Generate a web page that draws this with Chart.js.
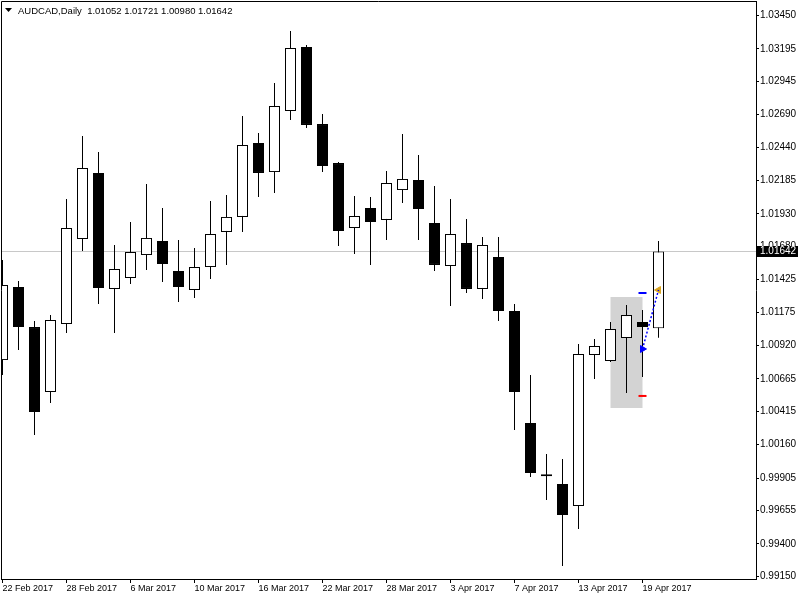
<!DOCTYPE html>
<html>
<head>
<meta charset="utf-8">
<script src="https://cdn.jsdelivr.net/npm/chart.js@4.4.0/dist/chart.umd.min.js"></script>
<style>
  html, body { margin: 0; padding: 0; background: #fff; }
  #wrap { width: 800px; height: 600px; }
</style>
</head>
<body>
<div id="wrap"><canvas id="chart" width="800" height="600"></canvas></div>
<script>
const symbol = "AUDCAD";
const period = "Daily";

const dates = ["22 Feb 2017", "23 Feb 2017", "24 Feb 2017", "27 Feb 2017", "28 Feb 2017",
    "1 Mar 2017", "2 Mar 2017", "3 Mar 2017", "6 Mar 2017", "7 Mar 2017", "8 Mar 2017", "9 Mar 2017",
    "10 Mar 2017", "13 Mar 2017", "14 Mar 2017", "15 Mar 2017", "16 Mar 2017", "17 Mar 2017",
    "20 Mar 2017", "21 Mar 2017", "22 Mar 2017", "23 Mar 2017", "24 Mar 2017", "27 Mar 2017",
    "28 Mar 2017", "29 Mar 2017", "30 Mar 2017", "31 Mar 2017", "3 Apr 2017", "4 Apr 2017",
    "5 Apr 2017", "6 Apr 2017", "7 Apr 2017", "10 Apr 2017", "11 Apr 2017", "12 Apr 2017",
    "13 Apr 2017", "14 Apr 2017", "17 Apr 2017", "18 Apr 2017", "19 Apr 2017", "20 Apr 2017"];

const opens = [1.00809, 1.01369, 1.01062, 1.00564, 1.01085, 1.01737, 1.02243, 1.01354, 1.01438, 1.01614,
    1.01722, 1.01492, 1.01346, 1.01522, 1.01791, 1.01906, 1.02473, 1.02250, 1.02718, 1.03209,
    1.02618, 1.02319, 1.01821, 1.01975, 1.01883, 1.02112, 1.02189, 1.01860, 1.01530, 1.01706,
    1.01354, 1.01599, 1.01185, 1.00327, 0.99920, 0.99859, 0.99690, 1.00848, 1.00802, 1.00978,
    1.01101, 1.01052];
const highs = [1.01576, 1.01415, 1.01108, 1.01154, 1.02044, 1.02526, 1.02404, 1.01691, 1.01867, 1.02158,
    1.01975, 1.01729, 1.01668, 1.02028, 1.02074, 1.02680, 1.02549, 1.02933, 1.03331, 1.03224,
    1.02695, 1.02327, 1.02067, 1.02059, 1.02258, 1.02542, 1.02381, 1.02143, 1.02044, 1.01890,
    1.01752, 1.01752, 1.01239, 1.00694, 1.00089, 1.00051, 1.00932, 1.00970, 1.01101, 1.01231,
    1.01193, 1.01721];
const lows = [1.00694, 1.00886, 1.00235, 1.00480, 1.01016, 1.01645, 1.01239, 1.01016, 1.01392, 1.01499,
    1.01407, 1.01254, 1.01285, 1.01430, 1.01538, 1.01791, 1.02059, 1.02090, 1.02649, 1.02588,
    1.02250, 1.01683, 1.01622, 1.01538, 1.01729, 1.02013, 1.01729, 1.01492, 1.01223, 1.01323,
    1.01277, 1.01108, 1.00273, 0.99913, 0.99736, 0.99230, 0.99514, 1.00664, 1.00794, 1.00557,
    1.00679, 1.00980];
const closes = [1.01384, 1.01062, 1.00411, 1.01116, 1.01821, 1.02281, 1.01361, 1.01507, 1.01637, 1.01745,
    1.01545, 1.01369, 1.01522, 1.01775, 1.01906, 1.02457, 1.02243, 1.02756, 1.03201, 1.02611,
    1.02296, 1.01798, 1.01913, 1.01867, 1.02166, 1.02197, 1.01967, 1.01538, 1.01775, 1.01354,
    1.01691, 1.01185, 1.00564, 0.99943, 0.99918, 0.99621, 1.00855, 1.00917, 1.01047, 1.01154,
    1.01062, 1.01642];

const xTickLabels = ["22 Feb 2017", "28 Feb 2017", "6 Mar 2017", "10 Mar 2017", "16 Mar 2017",
    "22 Mar 2017", "28 Mar 2017", "3 Apr 2017", "7 Apr 2017", "13 Apr 2017", "19 Apr 2017"];
const yTicks = [1.03450, 1.03195, 1.02945, 1.02690, 1.02440, 1.02185, 1.01930, 1.01680, 1.01425,
    1.01175, 1.00920, 1.00665, 1.00415, 1.00160, 0.99905, 0.99655, 0.99400, 0.99150];

// marked zone + trade drawn on the last bars
const zoneBar = 39;
const zoneRange = [1.00442, 1.01292];
const tradeBars = [40, 41];
const tradePrices = [1.00894, 1.01346];
const stopLoss = 1.00534;
const takeProfit = 1.01323;

const FONT = "'Liberation Sans', Arial, sans-serif";
const last = closes.length - 1;
const tickIdx = xTickLabels.map(d => dates.indexOf(d));

const bodies = dates.map((d, i) => ({ x: i, y: [opens[i], closes[i]] }));
const wicks = dates.map((d, i) => ({ x: i, y: [lows[i], highs[i]] }));
const bodyColors = dates.map((d, i) => closes[i] >= opens[i] ? '#ffffff' : '#000000');

const mtPlugin = {
    id: 'mtPlugin',
    beforeDatasetsDraw(chart) {
        const ctx = chart.ctx, a = chart.chartArea;
        const py = Math.round(chart.scales.y.getPixelForValue(closes[last])) + 0.5;
        ctx.save();
        ctx.strokeStyle = '#c8c8c8';
        ctx.lineWidth = 1;
        ctx.beginPath();
        ctx.moveTo(a.left, py);
        ctx.lineTo(a.right, py);
        ctx.stroke();
        ctx.restore();
    },
    afterDraw(chart) {
        const ctx = chart.ctx, a = chart.chartArea;
        ctx.save();
        // frame top / left
        ctx.strokeStyle = '#000';
        ctx.lineWidth = 1;
        ctx.beginPath();
        ctx.moveTo(a.left + 0.5, a.bottom);
        ctx.lineTo(a.left + 0.5, a.top + 0.5);
        ctx.lineTo(a.right, a.top + 0.5);
        ctx.stroke();

        // header
        ctx.fillStyle = '#000';
        ctx.beginPath();
        ctx.moveTo(5, 8);
        ctx.lineTo(12, 8);
        ctx.lineTo(8.5, 12);
        ctx.closePath();
        ctx.fill();
        ctx.font = '9.5px ' + FONT;
        ctx.textBaseline = 'middle';
        ctx.textAlign = 'left';
        const hdr = symbol + ',' + period + '  ' + opens[last].toFixed(5) + ' ' + highs[last].toFixed(5) +
            ' ' + lows[last].toFixed(5) + ' ' + closes[last].toFixed(5);
        ctx.fillText(hdr, 18, 11);

        // current price box
        const py = Math.round(chart.scales.y.getPixelForValue(closes[last]));
        ctx.fillStyle = '#000';
        ctx.fillRect(a.right + 1, py - 5, chart.width - a.right - 3, 11);
        ctx.fillStyle = '#fff';
        ctx.font = '10px ' + FONT;
        ctx.fillText(closes[last].toFixed(5), a.right + 4, py + 0.5);
        ctx.restore();
    }
};

const chart = new Chart(document.getElementById('chart').getContext('2d'), {
    type: 'bar',
    data: {
        datasets: [
            {
                type: 'line',
                data: tradeBars.map((b, i) => ({ x: b, y: tradePrices[i] })),
                borderColor: '#0000ff',
                borderWidth: 1.5,
                borderDash: [2, 2],
                pointRadius: 0,
                order: 0
            },
            {
                type: 'line',
                showLine: false,
                data: [
                    { x: tradeBars[0], y: tradePrices[0] },
                    { x: tradeBars[1], y: tradePrices[1] },
                    { x: tradeBars[0], y: takeProfit },
                    { x: tradeBars[0], y: stopLoss }
                ],
                pointStyle: ['triangle', 'triangle', 'line', 'line'],
                rotation: [90, -90, 0, 0],
                pointRadius: [4, 4, 4, 4],
                backgroundColor: ['#0000ff', '#daa520', '#0000ff', '#ff0000'],
                borderColor: ['#0000ff', '#daa520', '#0000ff', '#ff0000'],
                borderWidth: [1, 1, 2, 2],
                order: 0
            },
            {
                data: bodies,
                backgroundColor: bodyColors,
                borderColor: '#000',
                borderWidth: 1,
                borderSkipped: false,
                barThickness: 11,
                minBarLength: 2,
                inflateAmount: 0,
                order: 1
            },
            {
                data: wicks,
                backgroundColor: '#000',
                borderWidth: 0,
                barThickness: 1,
                inflateAmount: 0,
                order: 2
            },
            {
                data: [{ x: zoneBar, y: zoneRange }],
                backgroundColor: '#d3d3d3',
                borderWidth: 0,
                barThickness: 32,
                inflateAmount: 0,
                order: 3
            }
        ]
    },
    options: {
        responsive: false,
        animation: false,
        devicePixelRatio: 1,
        layout: { autoPadding: false, padding: { top: 1, left: 1, right: 0, bottom: 0 } },
        datasets: { bar: { grouped: false } },
        plugins: {
            legend: { display: false },
            tooltip: { enabled: false }
        },
        scales: {
            x: {
                type: 'linear',
                min: -0.09375,
                max: 47.09375,
                offset: false,
                bounds: 'data',
                grid: { offset: false, drawOnChartArea: false, tickLength: 4, color: '#000' },
                border: { display: true, color: '#000', width: 1 },
                ticks: {
                    autoSkip: false, maxRotation: 0, minRotation: 0, align: 'start', padding: 0,
                    color: '#000', font: { family: FONT, size: 9 },
                    callback: v => dates[v]
                },
                afterBuildTicks: axis => { axis.ticks = tickIdx.map(v => ({ value: v })); },
                afterFit: axis => { axis.height = 21; axis.paddingLeft = 0; axis.paddingRight = 0; }
            },
            y: {
                type: 'linear',
                position: 'right',
                min: 0.99131,
                max: 1.03561,
                beginAtZero: false,
                bounds: 'data',
                grid: { drawOnChartArea: false, tickLength: 3, color: '#000' },
                border: { display: true, color: '#000', width: 1 },
                ticks: {
                    padding: 1, color: '#000', font: { family: FONT, size: 10 },
                    callback: v => v.toFixed(5)
                },
                afterBuildTicks: axis => { axis.ticks = yTicks.map(v => ({ value: v })); },
                afterFit: axis => { axis.width = 44; axis.paddingTop = 0; axis.paddingBottom = 0; }
            }
        }
    },
    plugins: [mtPlugin]
});
</script>
</body>
</html>
